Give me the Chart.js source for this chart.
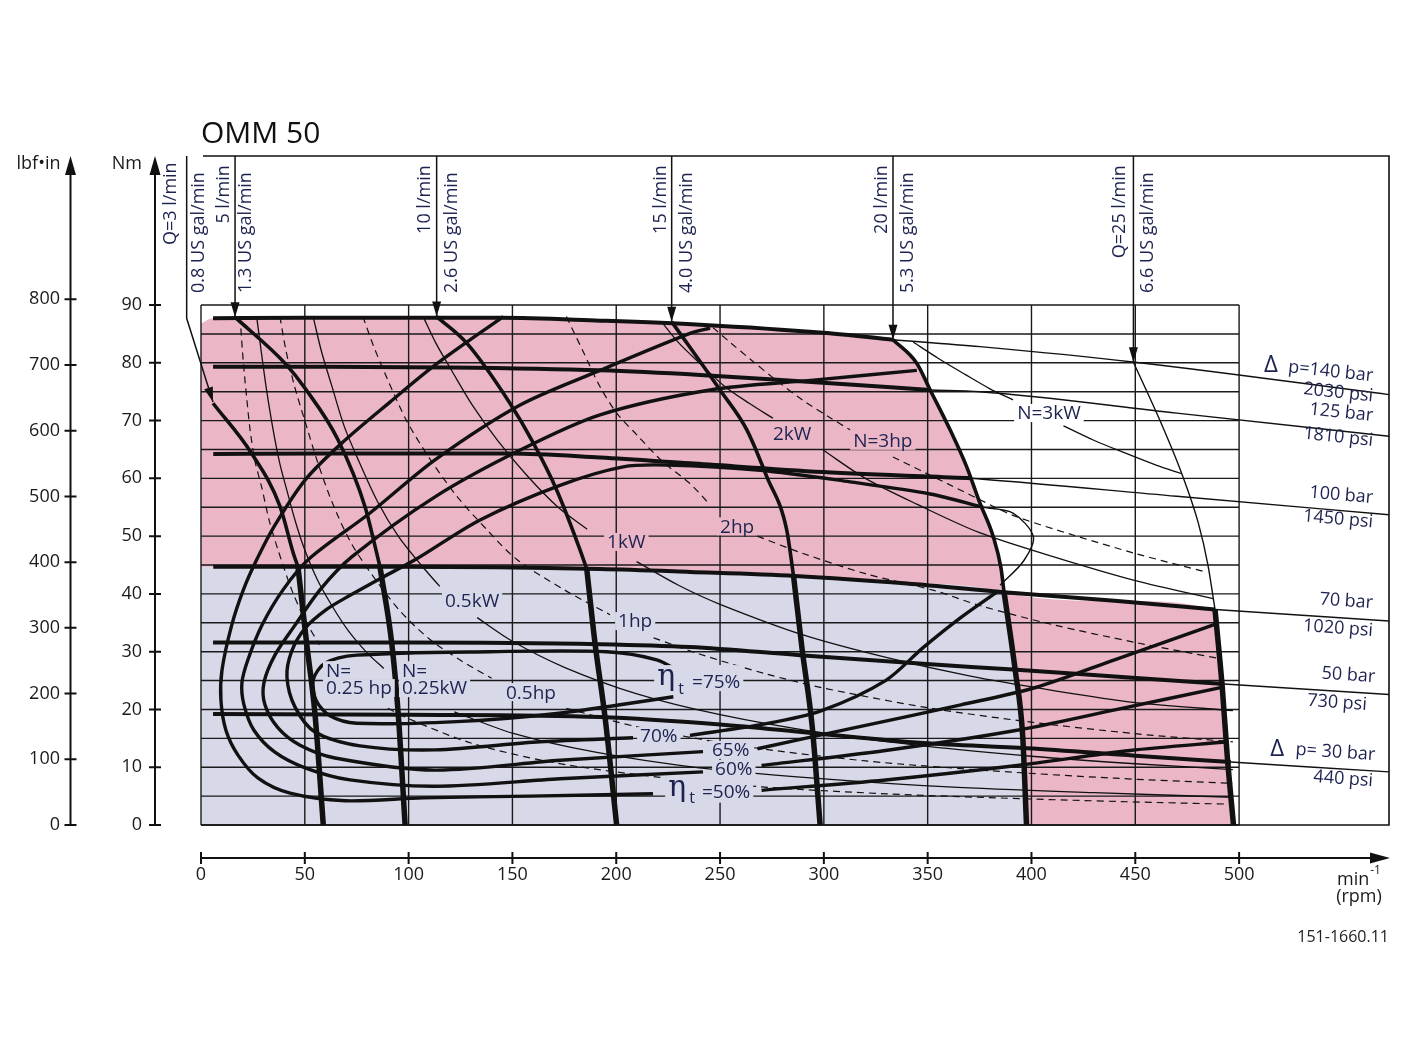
<!DOCTYPE html>
<html>
<head>
<meta charset="utf-8">
<title>OMM 50</title>
<script src="https://cdn.jsdelivr.net/npm/chart.js@4.4.0/dist/chart.umd.min.js"></script>
<style>
    html, body { margin: 0; padding: 0; background: #ffffff; }
    #wrap { position: absolute; left: 0; top: 0; width: 1417px; height: 1064px; }
</style>
</head>
<body>
<div id="wrap"><canvas id="omm"></canvas></div>
<script>
// Tick labels and grid steps
var rpmTicks = [0, 50, 100, 150, 200, 250, 300, 350, 400, 450, 500];
var nmTicks = [0, 10, 20, 30, 40, 50, 60, 70, 80, 90];
var lbfTicks = [0, 100, 200, 300, 400, 500, 600, 700, 800];
var gridNm = [0, 5, 10, 15, 20, 25, 30, 35, 40, 45, 50, 55, 60, 65, 70, 75, 80, 85, 90];

// Pressure curves [rpm, Nm] (thick part inside the operating area, thin extension to the label)
var p140 = [[5.8, 87.7], [50, 87.8], [95.9, 87.8], [144, 87.8], [192.2, 87.3], [240.4, 86.6], [299.6, 85.2], [333.3, 84.0]];
var p140Ext = [[333.3, 84.0], [375.2, 82.8], [450, 80.1], [572.2, 74.5]];
var p125 = [[5.8, 79.3], [60, 79.3], [119.9, 79.2], [192.2, 78.7], [240.4, 77.9], [288.5, 76.8], [351.2, 75.3]];
var p125Ext = [[351.2, 75.3], [375.2, 75.0], [470, 71.3], [572.2, 67.3]];
var p100 = [[5.9, 64.2], [60, 64.3], [148.8, 64.3], [192.2, 63.6], [235.5, 62.6], [299.6, 61.1], [371, 60.0]];
var p100Ext = [[371, 60.0], [375.2, 59.9], [470, 56.9], [572.2, 53.7]];
var p70 = [[5.9, 44.7], [95.9, 44.7], [192.2, 44.3], [235.5, 43.8], [286.2, 43.1], [340, 41.8], [386.8, 40.3], [440, 38.8], [488.4, 37.3]];
var p70Ext = [[488.4, 37.3], [572.2, 35.3]];
var p50 = [[5.8, 31.6], [100, 31.6], [192.2, 31.3], [235.5, 30.8], [288.5, 29.4], [347.8, 27.9], [391.1, 26.9], [440, 25.7], [492.8, 24.4]];
var p50Ext = [[492.8, 24.4], [572.2, 22.6]];
var p30 = [[5.8, 19.2], [100, 19.1], [192.2, 18.7], [250, 17.4], [294.8, 15.9], [347.8, 14.2], [397.9, 13.3], [450, 12.0], [496, 10.9]];
var p30Ext = [[496, 10.9], [572.2, 9.2]];

// Flow curves Q = 3, 5, 10, 15, 20, 25 l/min
var q3Top = [[5.8, 73.0], [24.4, 64.3], [38.1, 55.1], [44.5, 47.0], [46.7, 44.7]];
var q3Low = [[46.7, 44.7], [50.9, 31.4], [54.9, 19.2], [58.9, 0]];
var q3Arrow = [[5.8, 73.2], [-6.9, 87.7], [-6.9, 115.8]];
var q5Top = [[16.4, 87.9], [40.5, 79.9], [50.1, 75.6], [66.1, 66.6], [79, 55.1], [84.6, 47.1], [86.2, 44.7]];
var q5Low = [[86.2, 44.7], [91.9, 31.4], [95, 19.2], [98.3, 0]];
var q10Top = [[113.5, 88.0], [128, 83.4], [148.8, 73.0], [160.1, 66.1], [171.3, 58.0], [182.6, 47.6], [185.8, 44.3]];
var q10Low = [[185.8, 44.3], [189.8, 31.4], [194.6, 18.7], [200.2, 0]];
var q15Top = [[226.7, 87.1], [230.7, 85.1], [250, 75.3], [262.9, 68.4], [272.5, 60.3], [282.1, 51.1], [285.4, 43.1]];
var q15Low = [[285.4, 43.1], [289.5, 30.5], [294.4, 17.0], [298.2, 0]];
var q20Top = [[333.3, 84.0], [344.8, 79.9], [351.2, 75.3], [360.8, 68.4], [368.8, 62.0], [375.2, 55.7], [381.6, 49.9], [385.3, 44.5], [386.8, 40.3]];
var q20Low = [[386.8, 40.3], [392.2, 26.7], [395.8, 15.2], [397.6, 0]];
var q25Top = [[449.1, 80.1], [461.9, 70.0], [472.4, 60.8], [480.4, 52.2], [485, 45], [488.4, 37.3]];
var q25Low = [[488.4, 37.3], [491.9, 23.8], [494.3, 11.9], [497.3, 0]];
var flowArrowRpm = [16.4, 113.5, 226.7, 333.3, 449.1];
var flowArrowTip = [87.9, 88.0, 87.1, 84.0, 80.1];

// Total efficiency curves
var eta50 = [[145.6, 88.0], [112.7, 79.6], [91, 73.2], [67.8, 66.1], [50.1, 59.7], [35.6, 51.9], [26.8, 45.9], [20.4, 40.7], [14.8, 34.6], [10.1, 26.8], [9.6, 21.6], [12.0, 16.4], [17.8, 12.1], [27.5, 8.1], [42.9, 5.5], [69.4, 4.2], [106.9, 4.7], [158.5, 5.0], [217.7, 5.4]];
var eta50r = [[270, 6.0], [329.7, 7.8], [393, 10.3], [447.5, 12.9], [494.6, 14.4]];
var eta60 = [[245.2, 86.0], [235.5, 85.1], [192.2, 78.7], [153.7, 72.7], [112.7, 63.2], [81.4, 54.0], [52.5, 46.2], [39.5, 40.7], [29.4, 34.6], [22.6, 28.6], [19.7, 24.6], [20.7, 20.8], [25.5, 16.4], [35.6, 12.6], [50.1, 9.9], [71.8, 7.8], [112.7, 6.7], [172.9, 8.0], [241.8, 9.2]];
var eta60r = [[270, 10.3], [329.7, 12.9], [393, 16.4], [438.4, 19.8], [492.8, 23.9]];
var eta65 = [[344.8, 78.7], [295, 77.0], [245.2, 75.3], [192.2, 71.0], [153.7, 64.9], [112.7, 56.8], [72.6, 46.4], [57.3, 40.7], [45.3, 34.6], [35.6, 29.4], [30.3, 24.6], [30.8, 20.8], [37.1, 16.8], [47.7, 13.8], [64.5, 11.6], [112.7, 9.5], [172.9, 11.2], [241.8, 12.7]];
var eta65r = [[268, 13.2], [311.6, 16.6], [366, 20.8], [402, 23.8], [440, 28.6], [489, 34.8]];
var eta70 = [[208.1, 15.1], [163.3, 14.4], [112.7, 13.0], [76.6, 13.7], [54.9, 16.1], [45.3, 20.4], [41.4, 25.6], [43.6, 30.0], [50, 34], [60, 37.2], [72, 39.8], [86, 42.6], [103.1, 45.9], [134.4, 52.8], [172.9, 58.8], [203.3, 62.0], [224.5, 62.3], [269.3, 61.4], [312.6, 59.4], [351.2, 57.3], [376.7, 55.0]];
var eta70loop = [[376.7, 55.0], [391.1, 54.0], [400.9, 49.9], [396.2, 45.7], [384.9, 41.5]];
var eta70r = [[384, 40.5], [365.9, 35.9], [347.8, 30.7], [329.7, 25.0], [298.9, 19.8], [271.7, 17.5], [235.5, 15.5]];
var eta75 = [[230.7, 26.5], [219.5, 28.6], [195.4, 30.0], [139.2, 30.0], [75, 29.4], [59.7, 28.0], [54, 25.1], [55.4, 21.6], [62.1, 18.9], [75, 17.6], [123.2, 17.9], [171.3, 19.3], [227.5, 22.2]];

// Power curves (solid = kW, dashed = hp), split where the label sits
var hp025a = [[18.8, 88], [20.4, 80], [22, 74], [23.6, 68.5], [26, 63], [29.2, 58.5], [33, 52.5], [37.2, 47.5], [43.7, 40.7], [50, 35.6], [57, 31.2]];
var hp025b = [[90, 20.2], [100, 18.4], [130, 14.2], [170, 10.8], [220, 8.3], [270, 6.6], [330, 5.4], [400, 4.5], [460, 3.9], [497, 3.6]];
var kw025a = [[26.8, 88], [29, 82], [31.5, 75.5], [34.7, 68.5], [38, 62.5], [41.3, 58], [45.5, 52.5], [50.1, 47.5], [56, 42.5], [63, 38], [71, 33.6], [80, 29.8], [88, 27.1]];
var kw025b = [[122, 19.6], [150, 15.9], [190, 12.6], [240, 9.9], [300, 8.0], [360, 6.6], [430, 5.6], [497, 4.8]];
var hp05a = [[38, 88], [41, 82], [45, 76], [50, 70], [56, 63], [63, 56], [72, 49], [83, 43], [96, 37], [110, 32.2], [125, 28.5], [140, 25.4]];
var hp05b = [[176, 20.2], [210, 17], [260, 13.7], [320, 11.1], [380, 9.4], [440, 8.1], [497, 7.2]];
var kw05a = [[54, 88], [58, 82], [63, 76], [69, 69], [76, 63], [85, 56], [95, 50], [106, 45], [115, 41.3]];
var kw05b = [[133, 35.9], [150, 31.8], [175, 27.3], [210, 22.7], [250, 19.1], [300, 15.9], [350, 13.6], [400, 11.9], [450, 10.6], [497, 9.6]];
var hp1a = [[78, 88], [83, 83], [90, 77], [99, 70], [110, 63.5], [123, 57], [138, 51], [152, 46], [175, 40.7], [197, 36.4]];
var hp1b = [[218, 32.4], [240, 29.6], [271.7, 26.2], [300, 23.7], [350, 20.3], [400, 17.8], [450, 15.8], [497, 14.4]];
var kw1a = [[107, 88], [113, 83.5], [121, 78.5], [131, 72.5], [143, 66.5], [157, 60.5], [172, 55], [186, 51.2]];
var kw1b = [[209.8, 45.6], [230, 41.5], [250, 38.2], [290, 32.9], [330, 29], [370, 25.8], [410, 23.3], [450, 21.2], [497, 19.8]];
var hp2a = [[176, 88], [184, 82], [192, 76], [200.2, 71.3], [210, 67.5], [222, 63], [235.5, 59.1], [245, 55.5]];
var hp2b = [[268, 50], [290, 47], [320, 43.5], [353, 40.6], [375, 38], [410, 34.7], [450, 31.6], [490.8, 28.8]];
var kw2a = [[222.5, 86.8], [230, 83.5], [240, 80], [252, 76], [264, 73], [275.5, 70.4]];
var kw2b = [[299.6, 64.9], [320, 60], [345, 55.5], [375, 50.6], [410, 46.5], [450, 42.3], [487.5, 39.2]];
var hp3a = [[246.6, 86.1], [255, 83.5], [265, 80.5], [277, 77], [290, 73.5], [303, 70.5], [312.6, 68.4]];
var hp3b = [[333.3, 63.7], [360, 59], [375.2, 56.3], [391, 53.6], [420, 50.2], [450, 47], [482.8, 43.9]];
var kw3a = [[343, 83.6], [355, 80.8], [368, 78], [380, 75.5], [391.1, 73.6]];
var kw3b = [[415.4, 69.1], [430, 66.6], [445, 64.4], [460, 62.3], [472.4, 60.8]];

var INK = '#111111';
var NAVY = '#1d2350';
var PINK = '#ebb7c7';
var BLUE = '#d7d9e8';
var FONT = '"Open Sans", "Noto Sans", sans-serif';

// Region fills built from the boundary curves
var pinkEdge = [[0, 86.8]].concat(p140, q20Top.slice(1), p70.filter(function (p) { return p[0] > 390; }), q25Low.slice(1));
var blueEdge = [[0, 44.7]].concat(p70.filter(function (p) { return p[0] <= 386.8; }), q20Low.slice(1));

var datasets = [];
function add(label, arr, width, order, extra) {
    var ds = {
        label: label,
        data: arr.map(function (p) { return { x: p[0], y: p[1] }; }),
        borderColor: INK,
        borderWidth: width,
        pointRadius: 0,
        tension: 0.3,
        fill: false,
        order: order
    };
    for (var k in extra) ds[k] = extra[k];
    datasets.push(ds);
}

// curves that run one way in x are drawn monotone, so they line up with the fills
var mono = { cubicInterpolationMode: 'monotone' };

add('pinkFill', pinkEdge, 0, 100, { fill: 'origin', backgroundColor: PINK, cubicInterpolationMode: 'monotone' });
add('blueFill', blueEdge, 0, 99, { fill: 'origin', backgroundColor: BLUE, cubicInterpolationMode: 'monotone' });

// thin power lines
var dash = { borderDash: [7, 5] };
[hp025a, hp025b, hp05a, hp05b, hp1a, hp1b, hp2a, hp2b, hp3a, hp3b].forEach(function (c, i) {
    add('hp' + i, c, 1.2, 40, dash);
});
[kw025a, kw025b, kw05a, kw05b, kw1a, kw1b, kw2a, kw2b, kw3a, kw3b].forEach(function (c, i) {
    add('kw' + i, c, 1.3, 40);
});

// thin extensions of pressure and flow lines
[p140Ext, p125Ext, p100Ext, p70Ext, p50Ext, p30Ext].forEach(function (c, i) {
    add('pExt' + i, c, 1.4, 35, mono);
});
add('q25Top', q25Top, 1.4, 35, mono);
add('eta70loop', eta70loop, 1.4, 35);
add('q3Arrow', q3Arrow, 1.5, 35, { clip: false, tension: 0 });
flowArrowRpm.forEach(function (r, i) {
    add('qArrow' + i, [[r, 115.8], [r, flowArrowTip[i]]], 1.5, 35, { tension: 0 });
});

// efficiency curves
[eta50, eta50r, eta60, eta60r, eta65, eta65r, eta70, eta70r, eta75].forEach(function (c, i) {
    add('eta' + i, c, 3.4, 30);
});

// pressure curves
[p140, p125, p100, p70, p50, p30].forEach(function (c, i) {
    add('p' + i, c, 4, 20, mono);
});

// flow curves
[q3Top, q5Top, q10Top, q15Top, q20Top].forEach(function (c, i) {
    add('qTop' + i, c, 3.6, 10, mono);
});
[q3Low, q5Low, q10Low, q15Low, q20Low, q25Low].forEach(function (c, i) {
    add('qLow' + i, c, 5.5, 10, mono);
});

// Text annotations [text, rpm, Nm, background]
var curveLabels = [
    ['N=', 60.2, 26.8, BLUE], ['0.25 hp', 60.2, 23.7, BLUE],
    ['N=', 96.8, 26.8, BLUE], ['0.25kW', 96.8, 23.7, BLUE],
    ['0.5kW', 117.5, 38.8, BLUE], ['0.5hp', 146.9, 23.0, BLUE],
    ['1kW', 195.6, 49.0, PINK], ['1hp', 200.9, 35.3, BLUE],
    ['2kW', 275.5, 67.8, PINK], ['2hp', 250, 51.7, PINK],
    ['N=3hp', 314.1, 66.5, PINK], ['N=3kW', 393.1, 71.3, '#ffffff'],
    ['70%', 211.5, 15.4, BLUE], ['65%', 246.1, 13.0, BLUE], ['60%', 247.6, 9.7, BLUE]
];
var etaLabels = [
    { rpm: 219.7, nm: 25.6, sub: 23.4, text: '=75%', textRpm: 236.5, textNm: 24.9 },
    { rpm: 225, nm: 6.3, sub: 4.6, text: '=50%', textRpm: 241.3, textNm: 5.7 }
];
var flowLabels = [
    ['Q=3 l/min', -14.5, 114.7, 'right'], ['0.8 US gal/min', -1.0, 92.1, 'left'],
    ['5 l/min', 11.1, 114.2, 'right'], ['1.3 US gal/min', 21.7, 92.1, 'left'],
    ['10 l/min', 107.9, 114.2, 'right'], ['2.6 US gal/min', 120.9, 92.1, 'left'],
    ['15 l/min', 221.6, 114.2, 'right'], ['4.0 US gal/min', 234.1, 92.1, 'left'],
    ['20 l/min', 328, 114.2, 'right'], ['5.3 US gal/min', 340.6, 92.1, 'left'],
    ['Q=25 l/min', 442.7, 114.2, 'right'], ['6.6 US gal/min', 456.2, 92.1, 'left']
];
var sideLabels = [
    ['p=140 bar', 564.5, 77.7, 6], ['2030 psi', 564.5, 74.2, 6],
    ['125 bar', 564.5, 70.8, 6], ['1810 psi', 564.5, 66.5, 6],
    ['100 bar', 564.5, 56.6, 5], ['1450 psi', 564.5, 52.4, 5],
    ['70 bar', 564.5, 38.4, 4], ['1020 psi', 564.5, 33.6, 4],
    ['50 bar', 565.5, 25.6, 4], ['730 psi', 561.5, 20.8, 4],
    ['p= 30 bar', 565.5, 12.1, 4], ['440 psi', 564.5, 7.6, 4]
];
var deltaMarks = [[515.4, 79.6], [518.3, 13.2]];

function arrowHead(ctx, x0, y0, x1, y1, len, half) {
    var a = Math.atan2(y1 - y0, x1 - x0);
    var c = Math.cos(a), s = Math.sin(a);
    ctx.beginPath();
    ctx.moveTo(x1, y1);
    ctx.lineTo(x1 - len * c + half * s, y1 - len * s - half * c);
    ctx.lineTo(x1 - len * c - half * s, y1 - len * s + half * c);
    ctx.closePath();
    ctx.fill();
}

// Grid goes on top of the coloured regions, under the curves
var gridPlugin = {
    id: 'motorGrid',
    afterDatasetDraw: function (chart, args) {
        if (chart.data.datasets[args.index].label !== 'blueFill') return;
        var ctx = chart.ctx, xs = chart.scales.x, ys = chart.scales.y;
        ctx.save();
        ctx.strokeStyle = '#1a1a1a';
        ctx.lineWidth = 1.4;
        ctx.beginPath();
        rpmTicks.forEach(function (v) {
            var x = xs.getPixelForValue(v);
            ctx.moveTo(x, ys.getPixelForValue(0));
            ctx.lineTo(x, ys.getPixelForValue(90));
        });
        gridNm.forEach(function (v) {
            var y = ys.getPixelForValue(v);
            ctx.moveTo(xs.getPixelForValue(0), y);
            ctx.lineTo(xs.getPixelForValue(500), y);
        });
        ctx.stroke();
        ctx.restore();
    }
};

var decoPlugin = {
    id: 'motorDeco',
    afterDraw: function (chart) {
        var ctx = chart.ctx, xs = chart.scales.x, ys = chart.scales.y, ys2 = chart.scales.y2;
        var area = chart.chartArea;
        ctx.save();

        // frame
        ctx.strokeStyle = INK;
        ctx.lineWidth = 1.6;
        ctx.beginPath();
        ctx.moveTo(xs.getPixelForValue(0) + 2, area.top);
        ctx.lineTo(area.right, area.top);
        ctx.lineTo(area.right, area.bottom);
        ctx.lineTo(xs.getPixelForValue(0), area.bottom);
        ctx.stroke();

        // flow arrow heads
        ctx.fillStyle = INK;
        flowArrowRpm.forEach(function (r, i) {
            var x = xs.getPixelForValue(r), y = ys.getPixelForValue(flowArrowTip[i]);
            arrowHead(ctx, x, y - 20, x, y, 15, 4.5);
        });
        arrowHead(ctx, xs.getPixelForValue(q3Arrow[1][0]), ys.getPixelForValue(q3Arrow[1][1]),
            xs.getPixelForValue(q3Arrow[0][0]), ys.getPixelForValue(q3Arrow[0][1]), 15, 4.5);

        // left axes (Nm and lbf in)
        var axNm = area.left - 46, axLbf = area.left - 130.5, axY = area.bottom + 33;
        ctx.lineWidth = 2;
        ctx.beginPath();
        ctx.moveTo(axNm, ys.getPixelForValue(0));
        ctx.lineTo(axNm, area.top + 14);
        ctx.moveTo(axLbf, ys.getPixelForValue(0));
        ctx.lineTo(axLbf, area.top + 14);
        nmTicks.forEach(function (v) {
            var y = ys.getPixelForValue(v);
            ctx.moveTo(axNm - 6, y);
            ctx.lineTo(axNm + 6, y);
        });
        lbfTicks.forEach(function (v) {
            var y = ys2.getPixelForValue(v);
            ctx.moveTo(axLbf - 6, y);
            ctx.lineTo(axLbf + 6, y);
        });
        // rpm axis
        ctx.moveTo(xs.getPixelForValue(0), axY);
        ctx.lineTo(area.right - 14, axY);
        rpmTicks.forEach(function (v) {
            var x = xs.getPixelForValue(v);
            ctx.moveTo(x, axY - 6);
            ctx.lineTo(x, axY + 6);
        });
        ctx.stroke();
        arrowHead(ctx, axNm, area.top + 22, axNm, area.top, 19, 5.5);
        arrowHead(ctx, axLbf, area.top + 22, axLbf, area.top, 19, 5.5);
        arrowHead(ctx, area.right - 20, axY, area.right + 1, axY, 20, 5.5);

        // axis titles
        ctx.fillStyle = '#1a1a1a';
        ctx.textBaseline = 'middle';
        ctx.textAlign = 'right';
        ctx.font = '18px ' + FONT;
        ctx.fillText('Nm', axNm - 13, area.top + 8);
        ctx.fillText('lbf\u2022in', axLbf - 10, area.top + 8);
        ctx.textAlign = 'left';
        ctx.fillText('min', area.right - 52, axY + 22);
        ctx.font = '12px ' + FONT;
        ctx.fillText('-1', area.right - 52 + ctx.measureText('min').width * 1.5 + 1, axY + 13);
        ctx.font = '18px ' + FONT;
        ctx.textAlign = 'center';
        ctx.fillText('(rpm)', area.right - 30, axY + 39);

        // title and drawing number
        ctx.textAlign = 'left';
        ctx.fillStyle = INK;
        ctx.font = '30px ' + FONT;
        ctx.fillText('OMM 50', xs.getPixelForValue(0), area.top - 22);
        ctx.textAlign = 'right';
        ctx.font = '16px ' + FONT;
        ctx.fillStyle = '#222';
        ctx.fillText('151-1660.11', area.right, area.bottom + 112);

        // labels on the curves
        ctx.textAlign = 'left';
        curveLabels.forEach(function (l) {
            var x = xs.getPixelForValue(l[1]), y = ys.getPixelForValue(l[2]);
            ctx.font = '19px ' + FONT;
            var w = ctx.measureText(l[0]).width;
            ctx.fillStyle = l[3];
            ctx.fillRect(x - 3, y - 9, w + 6, 18);
            ctx.fillStyle = NAVY;
            ctx.fillText(l[0], x, y + 1);
        });
        etaLabels.forEach(function (l) {
            var x = xs.getPixelForValue(l.rpm), y = ys.getPixelForValue(l.nm);
            var tx = xs.getPixelForValue(l.textRpm), ty = ys.getPixelForValue(l.textNm);
            ctx.font = '19px ' + FONT;
            var w = ctx.measureText(l.text).width;
            ctx.fillStyle = BLUE;
            ctx.fillRect(x - 3, y - 12, tx + w - x + 6, 26);
            ctx.fillStyle = NAVY;
            ctx.fillText(l.text, tx, ty + 1);
            ctx.font = '30px "DejaVu Serif", "Liberation Serif", serif';
            ctx.fillText('\u03b7', x, y);
            ctx.font = '16px ' + FONT;
            ctx.fillText('t', x + 21, ys.getPixelForValue(l.sub));
        });

        // flow labels along the top
        ctx.fillStyle = NAVY;
        ctx.font = '18px ' + FONT;
        flowLabels.forEach(function (l) {
            ctx.save();
            ctx.translate(xs.getPixelForValue(l[1]), ys.getPixelForValue(l[2]));
            ctx.rotate(-Math.PI / 2);
            ctx.textAlign = l[3];
            ctx.textBaseline = 'middle';
            ctx.fillText(l[0], 0, 0);
            ctx.restore();
        });

        // pressure labels on the right
        sideLabels.forEach(function (l) {
            ctx.save();
            ctx.translate(xs.getPixelForValue(l[1]), ys.getPixelForValue(l[2]));
            ctx.rotate(l[3] * Math.PI / 180);
            ctx.textAlign = 'right';
            ctx.textBaseline = 'middle';
            ctx.fillText(l[0], 0, 0);
            ctx.restore();
        });
        ctx.font = '24px ' + FONT;
        ctx.textAlign = 'center';
        deltaMarks.forEach(function (d) {
            ctx.fillText('\u0394', xs.getPixelForValue(d[0]), ys.getPixelForValue(d[1]));
        });

        ctx.restore();
    }
};

Chart.defaults.font.family = FONT;

new Chart(document.getElementById('omm'), {
    type: 'line',
    data: { datasets: datasets },
    options: {
        responsive: true,
        maintainAspectRatio: false,
        animation: false,
        events: [],
        layout: { padding: { left: 0, top: 156, right: 28, bottom: 139 } },
        plugins: {
            legend: { display: false },
            tooltip: { enabled: false }
        },
        scales: {
            x: {
                type: 'linear',
                position: 'bottom',
                min: 0,
                max: 572.2,
                grid: { display: false, drawTicks: false },
                border: { display: false },
                afterBuildTicks: function (scale) {
                    scale.ticks = rpmTicks.map(function (v) { return { value: v }; });
                },
                ticks: { autoSkip: false, maxRotation: 0, padding: 39, color: '#1a1a1a', font: { size: 18 } },
                afterFit: function (scale) { scale.height = 100; }
            },
            y: {
                type: 'linear',
                position: 'left',
                weight: 0,
                min: 0,
                max: 115.8,
                grid: { display: false, drawTicks: false },
                border: { display: false },
                afterBuildTicks: function (scale) {
                    scale.ticks = nmTicks.map(function (v) { return { value: v }; });
                },
                ticks: { autoSkip: false, padding: 59, color: '#1a1a1a', font: { size: 18 } },
                afterFit: function (scale) { scale.width = 106; }
            },
            y2: {
                type: 'linear',
                position: 'left',
                weight: 1,
                min: 0,
                max: 1018,
                grid: { display: false, drawTicks: false },
                border: { display: false },
                afterBuildTicks: function (scale) {
                    scale.ticks = lbfTicks.map(function (v) { return { value: v }; });
                },
                ticks: { autoSkip: false, padding: 35, color: '#1a1a1a', font: { size: 18 } },
                afterFit: function (scale) { scale.width = 95; }
            }
        }
    },
    plugins: [gridPlugin, decoPlugin]
});
</script>
</body>
</html>
